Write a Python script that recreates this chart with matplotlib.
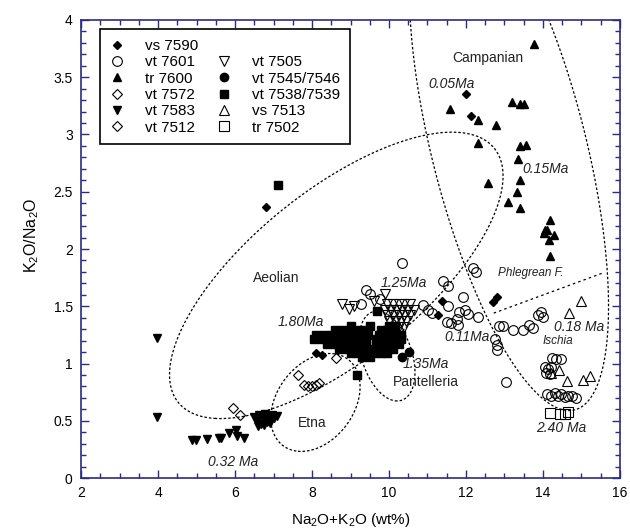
import numpy as np
import matplotlib
matplotlib.use('Agg')
import matplotlib.pyplot as plt
from matplotlib.lines import Line2D
from matplotlib.ticker import MultipleLocator, FormatStrFormatter

plt.rcParams['font.family'] = ['Liberation Sans', 'DejaVu Sans']
plt.rcParams['mathtext.default'] = 'regular'

# ---- samples: Na2O+K2O (wt%) vs K2O/Na2O ----
vs7590_x = [6.81, 12.00, 12.12, 8.11, 8.26, 11.37, 11.27, 12.70, 12.80]
vs7590_y = [2.37, 3.35, 3.16, 1.09, 1.07, 1.55, 1.42, 1.54, 1.58]

vt7601_x = [10.35, 9.41, 9.50, 9.27, 9.77, 10.89, 11.02, 11.11, 11.41, 11.52, 12.17, 12.26,
            11.91, 11.54, 11.83, 11.97, 12.06, 11.77, 11.50, 11.60, 11.80, 12.32, 12.85, 12.95,
            13.23, 13.49, 13.64, 13.74, 13.86, 13.94, 13.99, 12.76, 12.80, 12.81, 13.04,
            14.24, 14.35, 14.47, 14.05, 14.13, 14.20, 14.09, 14.18,
            14.10, 14.22, 14.30, 14.40, 14.48, 14.57, 14.66, 14.76, 14.86]
vt7601_y = [1.88, 1.64, 1.61, 1.52, 1.56, 1.51, 1.47, 1.44, 1.72, 1.68, 1.83, 1.80,
            1.58, 1.50, 1.45, 1.47, 1.43, 1.39, 1.36, 1.35, 1.34, 1.41, 1.33, 1.33,
            1.29, 1.29, 1.34, 1.31, 1.42, 1.45, 1.41, 1.21, 1.16, 1.12, 0.84,
            1.05, 1.04, 1.04, 0.97, 0.95, 0.97, 0.92, 0.91,
            0.73, 0.72, 0.74, 0.72, 0.73, 0.71, 0.72, 0.72, 0.70]

tr7600_x = [13.76, 11.59, 12.32, 12.79, 13.20, 13.40, 13.50, 12.32, 13.40, 13.55, 13.34, 12.58,
            13.40, 13.33, 13.08, 13.40, 14.18, 14.06, 14.11, 14.02, 14.15, 14.28, 14.19]
tr7600_y = [3.79, 3.22, 3.13, 3.08, 3.28, 3.27, 3.27, 2.93, 2.90, 2.91, 2.79, 2.58,
            2.60, 2.50, 2.41, 2.36, 2.25, 2.17, 2.17, 2.14, 2.08, 2.12, 1.94]

vt7572_x = [8.63, 7.63, 7.79, 7.89, 8.00, 8.11, 8.19]
vt7572_y = [1.05, 0.90, 0.81, 0.80, 0.80, 0.81, 0.83]

vt7583_x = [3.98, 3.98, 4.88, 4.98, 5.28, 5.58, 5.63, 5.84, 6.03, 6.06, 6.23,
            6.50, 6.58, 6.63, 6.68, 6.72, 6.78, 6.82, 6.88, 6.95, 7.02, 7.10, 6.60, 6.75, 6.90]
vt7583_y = [1.22, 0.53, 0.33, 0.33, 0.34, 0.35, 0.35, 0.39, 0.42, 0.37, 0.35,
            0.53, 0.50, 0.55, 0.47, 0.52, 0.56, 0.49, 0.53, 0.55, 0.52, 0.54, 0.45, 0.46, 0.48]

vt7512_x = [5.96, 6.13]
vt7512_y = [0.61, 0.55]

vt7505_x = [8.78, 8.95, 9.08, 9.62, 9.90,
            9.95, 10.10, 10.25, 10.40, 10.55,
            9.90, 10.05, 10.20, 10.35, 10.50, 10.65,
            9.95, 10.10, 10.25, 10.40, 10.55,
            10.00, 10.15, 10.30, 10.45,
            10.10, 10.25, 10.40]
vt7505_y = [1.52, 1.48, 1.50, 1.55, 1.61,
            1.52, 1.52, 1.52, 1.52, 1.52,
            1.47, 1.47, 1.47, 1.47, 1.47, 1.47,
            1.42, 1.42, 1.42, 1.42, 1.42,
            1.37, 1.37, 1.37, 1.37,
            1.32, 1.32, 1.32]

vt7545_x = [10.33, 10.53]
vt7545_y = [1.06, 1.10]

vt7538_x = [9.00, 9.50, 10.00, 10.15,
            8.60, 8.80, 9.00, 9.20, 9.40, 9.80, 9.95, 10.10,
            8.10, 8.30, 8.50, 8.70, 8.90, 9.10, 9.30, 9.45, 9.75, 9.90, 10.05, 10.20, 10.30,
            8.05, 8.25, 8.45, 8.65, 8.85, 9.05, 9.25, 9.40, 9.70, 9.85, 10.00, 10.15, 10.30,
            8.40, 8.60, 8.80, 9.00, 9.20, 9.40, 9.65, 9.80, 9.95, 10.10, 10.25,
            8.70, 8.90, 9.10, 9.30, 9.50, 9.65, 9.80, 9.95, 10.10,
            9.00, 9.20, 9.40, 9.60, 9.80, 9.95,
            9.30, 9.50,
            9.69, 9.18, 7.12]
vt7538_y = [1.33, 1.33, 1.33, 1.33,
            1.29, 1.29, 1.29, 1.29, 1.29, 1.29, 1.29, 1.29,
            1.25, 1.25, 1.25, 1.25, 1.25, 1.25, 1.25, 1.25, 1.25, 1.25, 1.25, 1.25, 1.25,
            1.21, 1.21, 1.21, 1.21, 1.21, 1.21, 1.21, 1.21, 1.21, 1.21, 1.21, 1.21, 1.21,
            1.17, 1.17, 1.17, 1.17, 1.17, 1.17, 1.17, 1.17, 1.17, 1.17, 1.17,
            1.13, 1.13, 1.13, 1.13, 1.13, 1.13, 1.13, 1.13, 1.13,
            1.09, 1.09, 1.09, 1.09, 1.09, 1.09,
            1.06, 1.06,
            1.46, 0.90, 2.56]

vs7513_x = [15.00, 14.68, 14.42, 14.22, 14.62, 15.04, 15.21]
vs7513_y = [1.55, 1.44, 0.94, 0.92, 0.85, 0.86, 0.89]

tr7502_x = [14.18, 14.45, 14.56, 14.65]
tr7502_y = [0.57, 0.56, 0.56, 0.58]

# ---- field outlines, points ----
aeolian_x = [4.31, 4.44, 5.11, 5.97, 6.92, 8.89, 10.29, 11.07, 12.15, 12.36, 12.84, 12.90,
             12.75, 12.36, 11.41, 11.07, 9.77, 7.44, 6.66, 5.97, 5.11, 4.50]
aeolian_y = [0.86, 0.63, 0.52, 0.51, 0.57, 0.97, 1.29, 1.64, 1.82, 1.99, 2.34, 2.57,
             2.81, 2.95, 3.01, 3.00, 2.88, 2.43, 2.19, 1.93, 1.55, 1.12]

etna_x = [6.88, 7.17, 7.60, 8.03, 8.22, 8.65, 9.04, 9.17, 9.12, 8.98, 7.91, 7.48, 6.98, 6.90]
etna_y = [0.57, 0.75, 0.94, 1.07, 1.09, 1.09, 1.03, 0.91, 0.78, 0.45, 0.25, 0.27, 0.37, 0.49]

pant_x = [9.22, 9.26, 9.48, 9.80, 10.20, 10.51, 10.67, 10.60, 10.35, 10.00, 9.66, 9.32]
pant_y = [1.10, 1.23, 1.40, 1.47, 1.38, 1.13, 0.89, 0.74, 0.66, 0.71, 0.83, 0.95]

camp_x = [10.35, 10.72, 11.04, 11.73, 12.15, 12.65, 12.82, 13.12, 13.56, 14.07, 14.40, 14.84,
          15.27, 15.62, 15.79, 15.88, 15.53, 15.31, 15.05, 14.79, 14.49, 14.14]
camp_y = [4.04, 3.51, 3.02, 2.35, 1.82, 1.30, 1.10, 0.88, 0.78, 0.72, 0.69, 0.75,
          0.89, 1.07, 1.33, 1.65, 2.23, 2.58, 2.99, 3.37, 3.71, 4.02]

phleg_x = [12.72, 15.55]
phleg_y = [1.44, 1.79]

# ---- labels ----
lab_txt = ['Campanian', '0.05Ma', '0.15Ma', 'Aeolian', '1.25Ma', '1.80Ma', '0.11Ma', '1.35Ma',
           'Pantelleria', 'Phlegrean F.', '0.18 Ma', 'Ischia', '2.40 Ma', 'Etna', '0.32 Ma']
lab_x = [12.56, 11.63, 14.08, 7.07, 10.38, 7.70, 12.03, 10.95, 10.95, 13.69, 14.94, 14.39, 14.47, 8.00, 5.94]
lab_y = [3.67, 3.44, 2.70, 1.75, 1.70, 1.36, 1.23, 1.00, 0.84, 1.79, 1.32, 1.20, 0.44, 0.48, 0.14]
lab_style = ['normal', 'italic', 'italic', 'normal', 'italic', 'italic', 'italic', 'italic',
             'normal', 'italic', 'italic', 'italic', 'italic', 'normal', 'italic']
lab_size = [10, 10, 10, 10, 10, 10, 10, 10, 10, 8.5, 10, 8.5, 10, 10, 10]

# x,y scale used to fit outlines in a roughly isotropic frame
SX, SY = 0.386, 1.145


def fit_ellipse(x, y):
    # direct least squares ellipse fit (Halir & Flusser)
    x = np.asarray(x) * SX
    y = np.asarray(y) * SY
    D1 = np.column_stack([x * x, x * y, y * y])
    D2 = np.column_stack([x, y, np.ones_like(x)])
    S1, S2, S3 = D1.T @ D1, D1.T @ D2, D2.T @ D2
    T = -np.linalg.solve(S3, S2.T)
    M = S1 + S2 @ T
    M = np.array([M[2] / 2, -M[1], M[0] / 2])
    w, v = np.linalg.eig(M)
    v = np.real(v)
    cond = 4 * v[0] * v[2] - v[1] ** 2
    a1 = v[:, cond > 0][:, 0]
    return np.concatenate([a1, T @ a1])


fig = plt.figure(figsize=(6.3, 5.29), dpi=100)
ax = fig.add_axes([0.1286, 0.0964, 0.8555, 0.8658])

gx, gy = np.meshgrid(np.linspace(2, 16, 900), np.linspace(0, 4, 600))
U, V = gx * SX, gy * SY
for ox, oy in [(aeolian_x, aeolian_y), (etna_x, etna_y), (pant_x, pant_y), (camp_x, camp_y)]:
    c = fit_ellipse(ox, oy)
    F = c[0] * U * U + c[1] * U * V + c[2] * V * V + c[3] * U + c[4] * V + c[5]
    ax.contour(gx, gy, F, levels=[0], colors='k', linewidths=0.9, linestyles=[(0, (2, 1.6))])
ax.plot(phleg_x, phleg_y, color='k', lw=0.9, ls=(0, (2, 2.5)))

ms_open = dict(mfc='none', mec='k', mew=0.8, ls='none')
ms_fill = dict(mfc='k', mec='k', ls='none')
h_vs7590, = ax.plot(vs7590_x, vs7590_y, marker='D', ms=3.6, **ms_fill)
h_vt7601, = ax.plot(vt7601_x, vt7601_y, marker='o', ms=7, **ms_open)
h_tr7600, = ax.plot(tr7600_x, tr7600_y, marker='^', ms=6, **ms_fill)
h_vt7572, = ax.plot(vt7572_x, vt7572_y, marker='D', ms=4.6, **ms_open)
h_vt7583, = ax.plot(vt7583_x, vt7583_y, marker='v', ms=6, **ms_fill)
h_vt7512, = ax.plot(vt7512_x, vt7512_y, marker='D', ms=4.6, **ms_open)
h_vt7505, = ax.plot(vt7505_x, vt7505_y, marker='v', ms=7, **ms_open)
h_vt7545, = ax.plot(vt7545_x, vt7545_y, marker='o', ms=6, **ms_fill)
h_vt7538, = ax.plot(vt7538_x, vt7538_y, marker='s', ms=6, **ms_fill)
h_vs7513, = ax.plot(vs7513_x, vs7513_y, marker='^', ms=7, **ms_open)
h_tr7502, = ax.plot(tr7502_x, tr7502_y, marker='s', ms=6.5, **ms_open)

for t, x, y, st, sz in zip(lab_txt, lab_x, lab_y, lab_style, lab_size):
    ax.text(x, y, t, ha='center', va='center', fontsize=sz, style=st, color='#222222')

blank = Line2D([], [], ls='none')
handles = [h_vs7590, h_vt7601, h_tr7600, h_vt7572, h_vt7583, h_vt7512,
           blank, h_vt7505, h_vt7545, h_vt7538, h_vs7513, h_tr7502]
labels = ['vs 7590', 'vt 7601', 'tr 7600', 'vt 7572', 'vt 7583', 'vt 7512',
          '', 'vt 7505', 'vt 7545/7546', 'vt 7538/7539', 'vs 7513', 'tr 7502']
leg = ax.legend(handles, labels, ncol=2, loc='upper left', bbox_to_anchor=(0.035, 0.98),
                fontsize=11, frameon=True, fancybox=False, edgecolor='k', framealpha=1,
                handlelength=1.0, handletextpad=1.3, columnspacing=1.2, labelspacing=0.15,
                borderpad=0.65, borderaxespad=0)
leg.get_frame().set_linewidth(1.2)

ax.set_xlim(2, 16)
ax.set_ylim(0, 4)
ax.xaxis.set_major_locator(MultipleLocator(2))
ax.xaxis.set_minor_locator(MultipleLocator(0.5))
ax.yaxis.set_major_locator(MultipleLocator(0.5))
ax.yaxis.set_minor_locator(MultipleLocator(0.1))
ax.yaxis.set_major_formatter(FormatStrFormatter('%g'))
ax.xaxis.set_major_formatter(FormatStrFormatter('%g'))

axis_col = '#2b2b80'
for s in ax.spines.values():
    s.set_color(axis_col)
    s.set_linewidth(1.2)
ax.tick_params(which='both', direction='in', top=True, right=True, color=axis_col,
               labelcolor='black', labelsize=10, pad=6)
ax.tick_params(which='major', length=6, width=1)
ax.tick_params(which='minor', length=3.5, width=1)

ax.set_xlabel('Na$_2$O+K$_2$O (wt%)', fontsize=11)
ax.set_ylabel('K$_2$O/Na$_2$O', fontsize=11.5)
ax.xaxis.set_label_coords(0.5, -0.072)
ax.yaxis.set_label_coords(-0.075, 0.53)

fig.savefig('out.png', dpi=100)
